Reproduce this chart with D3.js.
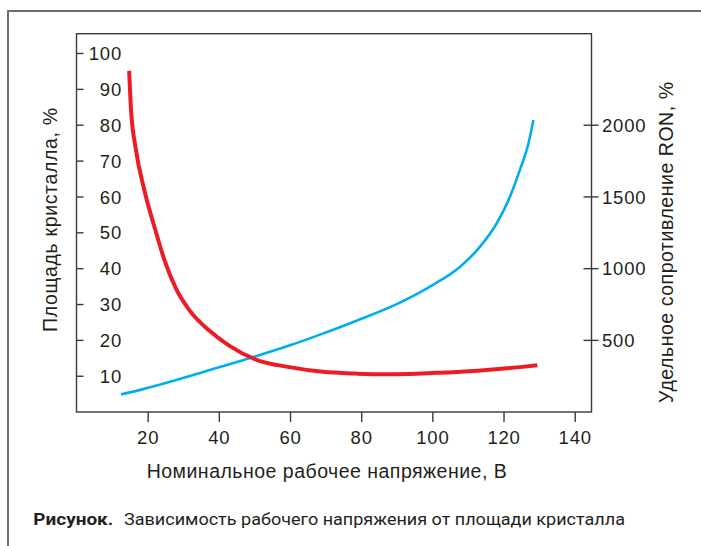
<!DOCTYPE html>
<html>
<head>
<meta charset="utf-8">
<script src="https://cdn.jsdelivr.net/npm/d3@7"></script>
<style>
  html, body { margin: 0; padding: 0; background: #fff; }
  svg { display: block; }
  text { font-family: "Liberation Sans", Arial, sans-serif; fill: #231f20; }
</style>
</head>
<body>
<svg id="chart" width="701" height="546"></svg>
<script>
// ---- data ----
const xTicks = [20, 40, 60, 80, 100, 120, 140];
const leftTicks = [10, 20, 30, 40, 50, 60, 70, 80, 90, 100];
const rightTicks = [500, 1000, 1500, 2000];

// Red curve: chip area, % (left axis)
const redX = [14.8, 15.3, 16.7, 19.1, 22.2, 24.7, 28, 31.7, 37.3, 42.9, 50.4, 59.8, 69.2, 78.5, 86, 93.5, 101, 105.9, 115.3, 124.6, 129.5];
const redY = [95, 84.5, 73, 61.6, 50.5, 42.3, 34.2, 28.3, 22.6, 18.4, 14.5, 12.4, 11.1, 10.6, 10.4, 10.5, 10.8, 11.0, 11.6, 12.4, 12.9];

// Blue curve: specific resistance RON, % (right axis)
const blueX = [12.5, 18.5, 28, 37, 47, 60, 69, 78.5, 90.9, 100.3, 107.8, 113.4, 118.1, 121.8, 124.6, 127, 128.4];
const blueY = [120, 155, 220, 286, 360, 462, 542, 632, 760, 885, 1010, 1150, 1313, 1498, 1685, 1870, 2033];

const xTitle = "Номинальное рабочее напряжение, В";
const leftTitle = "Площадь кристалла, %";
const rightTitle = "Удельное сопротивление RON, %";
const captionBold = "Рисунок.";
const captionText = "Зависимость рабочего напряжения от площади кристалла";

// ---- layout ----
const L = 76.5, R = 591.5, T = 33.7, B = 412;
const svg = d3.select("#chart");

const x = d3.scaleLinear().domain([0, 145]).range([L, L + 145 * 3.5586]);
const yL = d3.scaleLinear().domain([0, 100]).range([411.6, 53]);
const yR = d3.scaleLinear().domain([0, 2500]).range([411.6, 53]);

// outer frame (top + left)
svg.append("line").attr("x1", 7).attr("x2", 701).attr("y1", 11).attr("y2", 11)
  .attr("stroke", "#6d6e71").attr("stroke-width", 2);
svg.append("line").attr("x1", 8).attr("x2", 8).attr("y1", 10).attr("y2", 546)
  .attr("stroke", "#6d6e71").attr("stroke-width", 2);

// plot box
svg.append("rect").attr("x", L).attr("y", T).attr("width", R - L).attr("height", B - T)
  .attr("fill", "none").attr("stroke", "#3a3a3a").attr("stroke-width", 1.4);

const tickFont = 18.5;
const tickFamily = "'Liberation Sans', Arial, sans-serif";

// bottom axis
const gx = svg.append("g").attr("transform", `translate(0,${B})`)
  .call(d3.axisBottom(x).tickValues(xTicks).tickSize(10).tickFormat(d3.format("d")));
gx.select(".domain").remove();
gx.selectAll(".tick line").attr("stroke", "#3a3a3a").attr("stroke-width", 1.4);
gx.selectAll(".tick text").attr("y", 32.3).attr("dy", 0)
  .attr("font-size", tickFont).attr("letter-spacing", "0.8px")
  .attr("fill", "#231f20").style("font-family", tickFamily);

// left axis (ticks inside, labels inside)
const gl = svg.append("g").attr("transform", `translate(${L},0)`)
  .call(d3.axisRight(yL).tickValues(leftTicks).tickSize(7).tickFormat(d3.format("d")));
gl.select(".domain").remove();
gl.selectAll(".tick line").attr("stroke", "#3a3a3a").attr("stroke-width", 1.4);
gl.selectAll(".tick text").attr("x", 45.5).attr("dy", "0.36em").attr("text-anchor", "end")
  .attr("font-size", tickFont).attr("letter-spacing", "0.8px")
  .attr("fill", "#231f20").style("font-family", tickFamily);

// right axis (ticks cross the axis)
const gr = svg.append("g").attr("transform", `translate(${R},0)`)
  .call(d3.axisRight(yR).tickValues(rightTicks).tickSize(7).tickFormat(d3.format("d")));
gr.select(".domain").remove();
gr.selectAll(".tick line").attr("x1", -8).attr("x2", 7).attr("stroke", "#3a3a3a").attr("stroke-width", 1.4);
gr.selectAll(".tick text").attr("x", 10.5).attr("dy", "0.36em").attr("text-anchor", "start")
  .attr("font-size", tickFont).attr("letter-spacing", "0.8px")
  .attr("fill", "#231f20").style("font-family", tickFamily);

// curves
const redLine = d3.line().x(d => x(d[0])).y(d => yL(d[1])).curve(d3.curveMonotoneX);
const blueLine = d3.line().x(d => x(d[0])).y(d => yR(d[1])).curve(d3.curveMonotoneX);

svg.append("path").datum(blueX.map((v, i) => [v, blueY[i]]))
  .attr("d", blueLine).attr("fill", "none").attr("stroke", "#00aeef").attr("stroke-width", 2.6);
svg.append("path").datum(redX.map((v, i) => [v, redY[i]]))
  .attr("d", redLine).attr("fill", "none").attr("stroke", "#ed1c24").attr("stroke-width", 4);

// axis titles
const titleFont = 19.5;
svg.append("text").attr("x", 146.7).attr("y", 478.3)
  .attr("font-size", titleFont).attr("textLength", 360).attr("lengthAdjust", "spacing")
  .text(xTitle);

svg.append("text").attr("transform", "translate(57,332) rotate(-90)")
  .attr("font-size", titleFont).attr("textLength", 224).attr("lengthAdjust", "spacing")
  .text(leftTitle);

svg.append("text").attr("transform", "translate(672.7,403) rotate(-90)")
  .attr("font-size", titleFont).attr("textLength", 321).attr("lengthAdjust", "spacing")
  .text(rightTitle);

// caption
svg.append("text").attr("x", 33.3).attr("y", 525)
  .style("font-family", "Roboto, 'Liberation Sans', sans-serif").attr("font-weight", "bold")
  .attr("font-size", 17).attr("textLength", 80).attr("lengthAdjust", "spacingAndGlyphs")
  .text(captionBold);
svg.append("text").attr("x", 124).attr("y", 525)
  .style("font-family", "Roboto, 'Liberation Sans', sans-serif")
  .attr("font-size", 17).attr("textLength", 501).attr("lengthAdjust", "spacingAndGlyphs")
  .text(captionText);
</script>
</body>
</html>
